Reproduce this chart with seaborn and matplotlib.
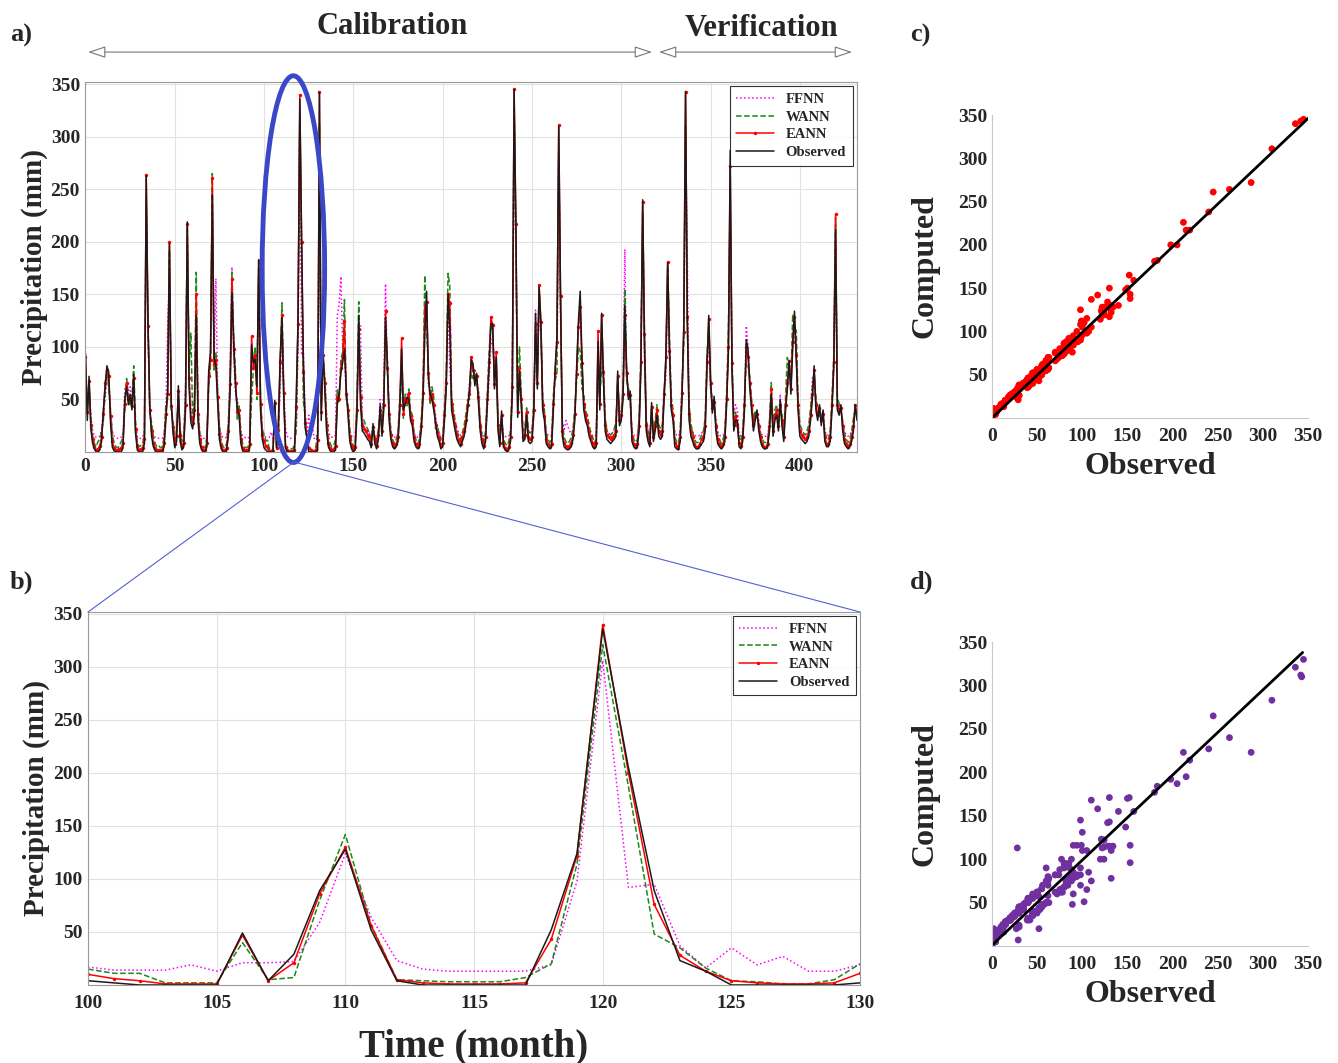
import numpy as np
import pandas as pd
import matplotlib
matplotlib.use("Agg")
import matplotlib.pyplot as plt
from matplotlib.patches import Ellipse
from matplotlib.lines import Line2D
import seaborn as sns

# monthly precipitation (mm)
observed = [94, 30, 72, 22, 8, 3, 0, 0, 2, 10, 40, 62,
            82, 76, 28, 5, 1, 0, 0, 0, 0, 4, 50, 62,
            45, 55, 40, 74, 18, 2, 0, 0, 0, 8, 263, 124,
            45, 15, 5, 1, 0, 0, 0, 0, 5, 30, 60, 198,
            48, 18, 4, 10, 63, 10, 2, 5, 40, 219, 62, 28,
            22, 35, 130, 30, 8, 2, 0, 0, 5, 78, 95, 245,
            90, 82, 48, 12, 3, 0, 0, 1, 15, 60, 152, 105,
            62, 42, 35, 8, 1, 0, 0, 0, 4, 102, 85, 88,
            62, 183, 40, 12, 4, 2, 0, 0, 0, 0, 49, 4,
            29, 89, 128, 52, 4, 0, 0, 0, 0, 0, 52, 124,
            336, 205, 89, 23, 13, 0, 0, 0, 0, 0, 2, 342,
            30, 98, 60, 20, 5, 1, 0, 0, 2, 45, 55, 75,
            85, 98, 60, 35, 10, 3, 0, 2, 35, 130, 45, 20,
            18, 15, 12, 10, 4, 27, 8, 3, 12, 45, 15, 40,
            128, 86, 30, 12, 5, 3, 5, 10, 40, 98, 40, 45,
            52, 50, 30, 25, 10, 5, 3, 5, 20, 50, 110, 153,
            70, 55, 50, 40, 30, 15, 10, 3, 5, 30, 60, 150,
            117, 40, 30, 20, 12, 8, 5, 10, 15, 25, 40, 60,
            88, 84, 63, 75, 48, 20, 8, 3, 10, 44, 80, 122,
            122, 60, 90, 20, 5, 39, 5, 2, 0, 2, 10, 56,
            345, 215, 33, 77, 45, 10, 12, 35, 10, 8, 10, 35,
            132, 60, 157, 121, 40, 30, 8, 5, 3, 5, 40, 80,
            110, 310, 148, 15, 5, 3, 2, 3, 5, 12, 30, 80,
            124, 153, 90, 40, 30, 25, 15, 10, 5, 3, 5, 105,
            40, 132, 70, 20, 12, 10, 8, 10, 12, 15, 77, 25,
            30, 50, 140, 80, 50, 58, 10, 5, 3, 5, 20, 80,
            240, 99, 20, 10, 5, 47, 10, 20, 35, 15, 12, 15,
            50, 91, 180, 100, 40, 30, 5, 3, 2, 10, 50, 120,
            343, 124, 30, 15, 10, 5, 3, 3, 5, 8, 10, 20,
            80, 130, 70, 37, 53, 20, 8, 5, 3, 5, 10, 45,
            94, 287, 80, 20, 30, 30, 5, 3, 10, 40, 107, 98,
            60, 40, 20, 30, 40, 20, 10, 5, 3, 3, 5, 20,
            55, 15, 30, 35, 20, 50, 25, 10, 40, 60, 87, 55,
            100, 134, 90, 40, 15, 12, 10, 8, 10, 15, 30, 50,
            82, 40, 30, 45, 25, 40, 10, 5, 5, 10, 40, 80,
            212, 40, 35, 45, 20, 8, 5, 3, 5, 10, 20, 45, 30]

eann = [90, 38, 68, 26, 12, 5, 2, 3, 6, 14, 36, 66,
        78, 72, 34, 10, 4, 2, 2, 3, 4, 9, 46, 66,
        50, 50, 44, 70, 22, 6, 2, 3, 4, 12, 264, 120,
        40, 20, 9, 4, 2, 2, 2, 2, 9, 36, 55, 200,
        44, 24, 8, 15, 58, 16, 5, 9, 45, 217, 70, 33,
        28, 40, 150, 36, 12, 5, 2, 2, 9, 72, 88, 261,
        84, 88, 52, 17, 7, 2, 2, 4, 20, 65, 165, 98,
        66, 38, 40, 12, 4, 2, 2, 2, 8, 110, 80, 92,
        56, 182, 46, 16, 10, 6, 4, 1, 1, 1, 47, 4,
        21, 86, 130, 56, 5, 2, 1, 1, 1, 2, 43, 122,
        340, 200, 76, 28, 13, 4, 2, 1, 1, 2, 11, 343,
        38, 92, 66, 26, 9, 4, 2, 3, 6, 52, 50, 80,
        92, 125, 55, 40, 15, 6, 2, 5, 40, 117, 52, 26,
        22, 20, 16, 14, 8, 24, 12, 6, 16, 40, 20, 45,
        134, 80, 36, 16, 8, 5, 8, 14, 45, 108, 36, 50,
        48, 56, 34, 30, 14, 8, 5, 8, 25, 56, 137, 143,
        75, 50, 55, 45, 26, 19, 14, 6, 9, 35, 66, 150,
        142, 46, 35, 25, 16, 11, 8, 14, 20, 30, 45, 55,
        90, 78, 70, 72, 52, 25, 12, 6, 14, 50, 86, 128,
        121, 65, 95, 26, 9, 35, 9, 4, 2, 5, 14, 62,
        345, 217, 38, 80, 50, 14, 16, 38, 14, 12, 14, 40,
        122, 66, 159, 124, 45, 34, 12, 8, 5, 8, 46, 75,
        105, 311, 148, 20, 9, 6, 4, 6, 9, 16, 36, 74,
        119, 138, 85, 46, 35, 29, 20, 14, 9, 5, 9, 115,
        46, 130, 76, 26, 16, 14, 12, 14, 16, 20, 72, 30,
        35, 55, 130, 75, 55, 54, 14, 8, 5, 8, 25, 86,
        238, 112, 26, 14, 9, 43, 14, 25, 40, 20, 16, 20,
        55, 90, 181, 96, 45, 35, 9, 6, 4, 14, 56, 114,
        343, 128, 36, 20, 14, 8, 5, 5, 8, 12, 14, 25,
        86, 127, 66, 42, 48, 25, 12, 8, 5, 8, 14, 50,
        100, 272, 85, 26, 34, 26, 9, 6, 14, 45, 100, 90,
        66, 45, 26, 34, 36, 25, 14, 8, 5, 5, 8, 25,
        60, 20, 34, 40, 25, 45, 30, 14, 45, 66, 87, 60,
        105, 128, 92, 45, 20, 16, 14, 12, 14, 20, 35, 55,
        78, 45, 35, 42, 30, 36, 14, 8, 8, 14, 45, 86,
        226, 45, 40, 42, 25, 12, 8, 5, 8, 14, 25, 45, 35]

wann = [80, 45, 60, 32, 15, 8, 5, 10, 12, 20, 30, 58,
        75, 62, 40, 18, 8, 5, 4, 6, 10, 14, 40, 70,
        55, 45, 52, 82, 30, 10, 5, 6, 8, 18, 240, 122,
        35, 28, 15, 8, 5, 6, 4, 5, 14, 45, 50, 192,
        40, 30, 12, 20, 50, 22, 10, 15, 52, 214, 80, 113,
        35, 48, 171, 42, 18, 8, 5, 4, 15, 62, 82, 265,
        78, 95, 58, 25, 10, 5, 4, 8, 28, 72, 171, 110,
        75, 30, 45, 18, 8, 5, 4, 5, 12, 51, 78, 100,
        50, 184, 52, 22, 15, 11, 11, 2, 2, 2, 40, 5,
        7, 80, 142, 57, 5, 4, 3, 3, 3, 7, 20, 114,
        321, 187, 48, 35, 16, 4, 3, 1, 1, 5, 20, 312,
        45, 90, 72, 32, 15, 8, 5, 6, 12, 60, 48, 88,
        95, 145, 50, 45, 22, 10, 5, 9, 48, 143, 58, 32,
        30, 25, 22, 18, 12, 20, 15, 10, 22, 35, 28, 52,
        115, 90, 42, 20, 12, 8, 12, 18, 52, 70, 32, 55,
        44, 60, 40, 35, 18, 12, 8, 12, 30, 62, 168, 116,
        82, 45, 62, 52, 22, 25, 18, 10, 14, 42, 75, 170,
        158, 52, 40, 30, 20, 15, 12, 18, 25, 36, 50, 50,
        75, 70, 78, 65, 58, 30, 16, 10, 20, 56, 95, 122,
        113, 72, 85, 32, 14, 30, 14, 8, 6, 10, 20, 70,
        330, 195, 45, 100, 56, 20, 22, 42, 20, 18, 20, 46,
        110, 72, 155, 123, 52, 40, 18, 12, 9, 12, 55, 68,
        75, 283, 137, 28, 14, 10, 8, 10, 14, 22, 42, 68,
        100, 96, 60, 55, 40, 34, 26, 18, 14, 8, 14, 65,
        55, 78, 82, 32, 20, 18, 16, 18, 22, 28, 66, 38,
        40, 62, 155, 68, 62, 48, 20, 12, 9, 12, 32, 95,
        227, 116, 32, 20, 14, 38, 20, 30, 45, 26, 22, 26,
        60, 80, 177, 110, 52, 40, 14, 10, 8, 20, 62, 100,
        310, 122, 45, 26, 20, 12, 9, 9, 12, 16, 20, 32,
        92, 115, 62, 50, 42, 30, 16, 12, 8, 12, 20, 56,
        116, 223, 90, 32, 38, 24, 14, 10, 20, 52, 85, 82,
        72, 50, 32, 38, 32, 30, 18, 12, 9, 9, 12, 30,
        66, 26, 40, 45, 30, 38, 36, 20, 52, 90, 80, 66,
        131, 115, 116, 52, 26, 22, 18, 16, 20, 26, 42, 62,
        72, 52, 42, 38, 36, 32, 20, 12, 12, 20, 52, 92,
        223, 52, 46, 38, 30, 18, 12, 9, 12, 20, 32, 40, 40]

ffnn = [80, 45, 60, 35, 20, 15, 14, 14, 15, 22, 40, 50,
        70, 68, 40, 20, 15, 14, 13, 13, 14, 18, 60, 65,
        55, 62, 50, 65, 25, 15, 13, 13, 14, 20, 230, 110,
        40, 25, 16, 14, 13, 13, 13, 13, 16, 40, 120, 170,
        45, 25, 16, 20, 50, 18, 14, 15, 60, 200, 80, 40,
        30, 45, 140, 40, 18, 14, 13, 13, 16, 60, 100, 230,
        80, 165, 60, 25, 16, 14, 13, 14, 25, 80, 176, 90,
        55, 50, 40, 20, 15, 14, 13, 13, 15, 90, 80, 85,
        65, 170, 50, 22, 17, 14, 14, 14, 19, 13, 21, 21,
        22, 59, 124, 64, 23, 15, 13, 13, 13, 13, 19, 98,
        306, 92, 95, 37, 16, 35, 19, 27, 13, 13, 19, 250,
        60, 80, 70, 35, 20, 15, 14, 14, 16, 130, 140, 167,
        100, 90, 55, 40, 20, 15, 14, 15, 45, 125, 120, 30,
        25, 22, 20, 18, 15, 25, 15, 14, 18, 50, 25, 60,
        160, 80, 40, 20, 15, 14, 15, 18, 50, 85, 45, 50,
        55, 50, 38, 30, 18, 15, 14, 15, 25, 60, 135, 145,
        65, 60, 50, 45, 35, 22, 18, 15, 15, 35, 70, 140,
        80, 50, 38, 28, 22, 18, 16, 18, 22, 30, 45, 65,
        80, 75, 65, 70, 60, 30, 18, 15, 18, 40, 70, 100,
        110, 70, 80, 30, 18, 35, 16, 15, 14, 15, 20, 55,
        320, 190, 45, 70, 50, 20, 20, 40, 20, 18, 20, 40,
        135, 70, 145, 110, 50, 35, 20, 16, 15, 16, 45, 80,
        110, 290, 130, 30, 20, 30, 25, 20, 18, 20, 35, 80,
        115, 140, 80, 45, 35, 28, 20, 18, 15, 15, 16, 95,
        45, 120, 70, 30, 20, 18, 16, 18, 20, 25, 70, 30,
        35, 60, 193, 70, 55, 50, 20, 16, 15, 16, 30, 80,
        225, 90, 30, 20, 16, 40, 18, 25, 35, 22, 18, 20,
        60, 70, 150, 90, 45, 35, 18, 16, 15, 18, 60, 110,
        300, 185, 40, 22, 18, 16, 15, 15, 16, 18, 20, 30,
        80, 110, 60, 40, 50, 30, 20, 16, 15, 16, 20, 50,
        100, 250, 80, 35, 45, 40, 18, 15, 18, 45, 120, 100,
        65, 45, 30, 35, 40, 28, 18, 16, 15, 15, 16, 25,
        50, 25, 35, 40, 25, 55, 30, 18, 45, 60, 75, 65,
        100, 120, 90, 45, 25, 20, 18, 16, 18, 22, 35, 70,
        75, 45, 35, 40, 30, 40, 20, 16, 16, 20, 45, 80,
        200, 45, 45, 40, 30, 20, 16, 15, 16, 20, 25, 40, 35]

c_line_x = [0, 352]
c_line_y = [0, 348]
d_line_x = [0, 344]
d_line_y = [1, 338]

month = np.arange(len(observed))
df = pd.DataFrame({'month': month, 'Observed': observed, 'EANN': eann,
                   'WANN': wann, 'FFNN': ffnn})
zoom = df[(df.month >= 100) & (df.month <= 130)]

sns.set_theme(style="whitegrid")
plt.rcParams['font.family'] = ['Liberation Serif', 'DejaVu Serif']
plt.rcParams['font.weight'] = 'bold'

fig = plt.figure(figsize=(13.38, 10.63), dpi=100)
ax_a = fig.add_axes([0.0639, 0.5748, 0.5766, 0.348])
ax_b = fig.add_axes([0.0658, 0.0734, 0.577, 0.351])
ax_c = fig.add_axes([0.7414, 0.6068, 0.2362, 0.285])
ax_d = fig.add_axes([0.7414, 0.110, 0.2362, 0.286])

styles = [('FFNN', 'magenta', ':', None),
          ('WANN', '#1a8a1a', '--', None),
          ('EANN', 'red', '-', '.'),
          ('Observed', '#1a1a1a', '-', None)]


def draw_series(ax, data):
    for name, col, ls, mk in styles:
        sns.lineplot(data=data, x='month', y=name, ax=ax, color=col,
                     linestyle=ls, marker=mk, markersize=5, lw=1.1,
                     markeredgewidth=0, label=name)
    ax.set_ylim(0, 352)
    ax.set_yticks(range(50, 351, 50))
    ax.grid(True, color='#e2e2e2', lw=0.8)
    for s in ax.spines.values():
        s.set_color('#9a9a9a')
        s.set_linewidth(0.8)
    ax.tick_params(length=0, labelsize=14, pad=4)
    for t in ax.get_xticklabels() + ax.get_yticklabels():
        t.set_fontweight('bold')
    leg = ax.legend(loc='upper right', fontsize=10.5, frameon=True, fancybox=False,
                    handlelength=2.6, borderpad=0.45, labelspacing=0.3,
                    handletextpad=0.8, borderaxespad=0.3,
                    bbox_to_anchor=(1.0, 1.0))
    leg.get_frame().set_edgecolor('black')
    leg.get_frame().set_linewidth(0.8)
    for t in leg.get_texts():
        t.set_fontweight('bold')
    ax.set_ylabel('Precipitation (mm)', fontsize=21, fontweight='bold', labelpad=2)


draw_series(ax_a, df)
ax_a.set_xlim(0, 432)
ax_a.set_xticks(range(0, 401, 50))
ax_a.set_xlabel('')
ax_a.add_patch(Ellipse((116.4, 174), 35, 368, fill=False, ec='#3a48c8',
                       lw=3.5, clip_on=False, zorder=10))

draw_series(ax_b, zoom)
ax_b.set_xlim(100, 130)
ax_b.set_xticks(range(100, 131, 5))
ax_b.tick_params(axis='x', pad=7)
ax_b.set_xlabel('Time (month)', fontsize=28, fontweight='bold', labelpad=12)

for ax, y, col, lx, ly in [(ax_c, eann, 'red', c_line_x, c_line_y),
                           (ax_d, wann, '#7030a0', d_line_x, d_line_y)]:
    sns.scatterplot(x=observed, y=y, ax=ax, color=col, s=24, edgecolor='none')
    sns.lineplot(x=lx, y=ly, ax=ax, color='black', lw=2)
    ax.set_xlim(0, 350)
    ax.set_ylim(0, 350)
    ax.set_xticks(range(0, 351, 50))
    ax.set_yticks(range(50, 351, 50))
    ax.grid(False)
    ax.set_facecolor('white')
    for side in ['top', 'right']:
        ax.spines[side].set_visible(False)
    for side in ['left', 'bottom']:
        ax.spines[side].set_color('#c8c8c8')
        ax.spines[side].set_linewidth(0.8)
    ax.tick_params(length=0, labelsize=14, pad=3)
    ax.tick_params(axis='x', pad=7)
    for t in ax.get_xticklabels() + ax.get_yticklabels():
        t.set_fontweight('bold')
    ax.set_xlabel('Observed', fontsize=23, fontweight='bold', labelpad=5)
    ax.set_ylabel('Computed', fontsize=23, fontweight='bold', labelpad=14)

# period arrows and titles
arrow = dict(arrowstyle='<|-|>,head_length=0.9,head_width=0.3', fc='white',
             ec='#777777', lw=0.8, shrinkA=0, shrinkB=0)
fig.add_artist(plt.Annotation('', xy=(0.0658, 0.951), xytext=(0.4873, 0.951),
                              xycoords='figure fraction', arrowprops=arrow))
fig.add_artist(plt.Annotation('', xy=(0.4925, 0.951), xytext=(0.6368, 0.951),
                              xycoords='figure fraction', arrowprops=arrow))
fig.text(0.293, 0.975, 'Calibration', ha='center', va='center', fontsize=22, fontweight='bold')
fig.text(0.5688, 0.973, 'Verification', ha='center', va='center', fontsize=22, fontweight='bold')

for lbl, x, y in [('a)', 0.0075, 0.967), ('b)', 0.0075, 0.4525),
                  ('c)', 0.680, 0.967), ('d)', 0.680, 0.4525)]:
    fig.text(x, y, lbl, ha='left', va='center', fontsize=19, fontweight='bold')

# zoom connector lines
for x_end in [88, 860]:
    fig.add_artist(Line2D([294 / 1338, x_end / 1338], [1 - 462 / 1063, 1 - 612 / 1063],
                          transform=fig.transFigure, color='#5560d0', lw=0.8))

fig.savefig('out.png', dpi=100)
